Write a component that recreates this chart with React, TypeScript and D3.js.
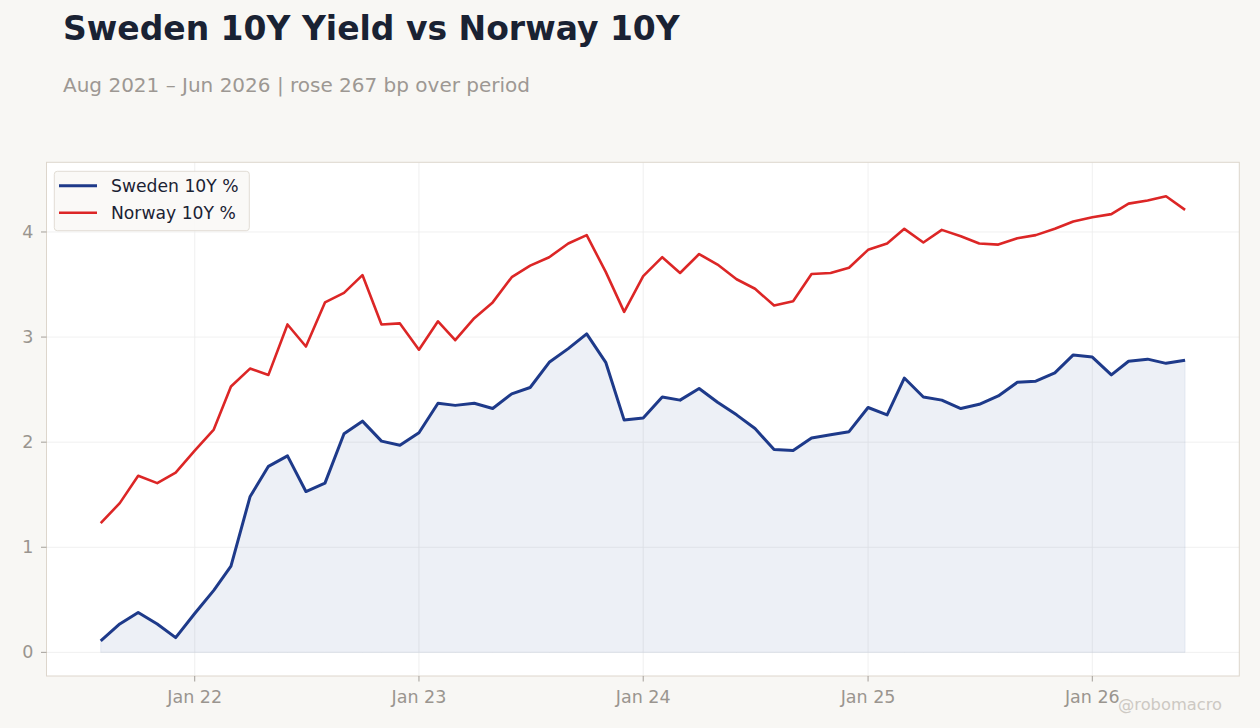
import React from "react";
import * as d3 from "d3";

const startMonth = new Date(2021, 7, 1);
const endMonth = new Date(2026, 5, 1);

const swedenValues = [
  0.11, 0.27, 0.38, 0.27, 0.14,
  0.37, 0.59, 0.82, 1.48, 1.77, 1.87, 1.53, 1.61, 2.08, 2.2, 2.01, 1.97,
  2.09, 2.37, 2.35, 2.37, 2.32, 2.46, 2.52, 2.76, 2.89, 3.03, 2.76, 2.21,
  2.23, 2.43, 2.4, 2.51, 2.38, 2.26, 2.13, 1.93, 1.92, 2.04, 2.07, 2.1,
  2.33, 2.26, 2.61, 2.43, 2.4, 2.32, 2.36, 2.44, 2.57, 2.58, 2.66, 2.83,
  2.81, 2.64, 2.77, 2.79, 2.75, 2.78,
];

const norwayValues = [
  1.23, 1.42, 1.68, 1.61, 1.71,
  1.92, 2.12, 2.53, 2.7, 2.64, 3.12, 2.91, 3.33, 3.42, 3.59, 3.12, 3.13,
  2.88, 3.15, 2.97, 3.18, 3.33, 3.57, 3.68, 3.76, 3.89, 3.97, 3.62, 3.24,
  3.58, 3.76, 3.61, 3.79, 3.69, 3.55, 3.46, 3.3, 3.34, 3.6, 3.61, 3.66,
  3.83, 3.89, 4.03, 3.9, 4.02, 3.96, 3.89, 3.88, 3.94, 3.97, 4.03, 4.1,
  4.14, 4.17, 4.27, 4.3, 4.34, 4.21,
];

const xTickDates = [
  new Date(2022, 0, 1),
  new Date(2023, 0, 1),
  new Date(2024, 0, 1),
  new Date(2025, 0, 1),
  new Date(2026, 0, 1),
];
const xTickLabels = ["Jan 22", "Jan 23", "Jan 24", "Jan 25", "Jan 26"];
const yTicks = [0, 1, 2, 3, 4];

const seriesNames = ["Sweden 10Y %", "Norway 10Y %"];
const title = "Sweden 10Y Yield vs Norway 10Y";
const subtitle = "Aug 2021 – Jun 2026 | rose 267 bp over period";
const watermark = "@robomacro";

const W = 1260;
const H = 728;
const plot = { left: 46.5, top: 162.3, right: 1239.3, bottom: 676 };
const FONT = "'DejaVu Sans', sans-serif";
const C_SWE = "#1e3a8a";
const C_NOR = "#dc2626";

export default function App() {
  const months = d3.timeMonth.range(startMonth, d3.timeMonth.offset(endMonth, 1));
  const span = endMonth.getTime() - startMonth.getTime();
  const x = d3
    .scaleTime()
    .domain([new Date(startMonth.getTime() - span * 0.05), new Date(endMonth.getTime() + span * 0.05)])
    .range([plot.left, plot.right]);
  const y = d3.scaleLinear().domain([-0.225, 4.663]).range([plot.bottom, plot.top]);

  const swe = months.map((d, i) => ({ d, v: swedenValues[i] }));
  const nor = months.map((d, i) => ({ d, v: norwayValues[i] }));

  const line = d3
    .line<{ d: Date; v: number }>()
    .x((p) => x(p.d))
    .y((p) => y(p.v));
  const area = d3
    .area<{ d: Date; v: number }>()
    .x((p) => x(p.d))
    .y0(() => y(0))
    .y1((p) => y(p.v));

  const tickColor = "#9a958f";
  const gridColor = "#ececec";

  return (
    <div style={{ position: "absolute", left: 0, top: 0, width: W, height: H }}>
      <svg width={W} height={H} style={{ display: "block", fontFamily: FONT }}>
        <rect x={0} y={0} width={W} height={H} fill="#f8f7f4" />
        <text x={63} y={40} fontSize={33} fontWeight="bold" fill="#1a2233">
          {title}
        </text>
        <text x={63} y={92} fontSize={20} fill="#9d9893">
          {subtitle}
        </text>

        <rect
          x={plot.left}
          y={plot.top}
          width={plot.right - plot.left}
          height={plot.bottom - plot.top}
          fill="#ffffff"
        />
        {yTicks.map((t) => (
          <line key={"gy" + t} x1={plot.left} x2={plot.right} y1={y(t)} y2={y(t)} stroke={gridColor} strokeWidth={0.8} />
        ))}
        {xTickDates.map((t, i) => (
          <line key={"gx" + i} x1={x(t)} x2={x(t)} y1={plot.top} y2={plot.bottom} stroke={gridColor} strokeWidth={0.8} />
        ))}

        <path d={area(swe) || ""} fill={C_SWE} fillOpacity={0.08} stroke={C_SWE} strokeOpacity={0.08} strokeWidth={1} />
        <path d={line(nor) || ""} fill="none" stroke={C_NOR} strokeWidth={2.6} strokeLinejoin="round" />
        <path d={line(swe) || ""} fill="none" stroke={C_SWE} strokeWidth={3} strokeLinejoin="round" />

        <rect
          x={plot.left}
          y={plot.top}
          width={plot.right - plot.left}
          height={plot.bottom - plot.top}
          fill="none"
          stroke="#ddd6cc"
          strokeWidth={1}
        />

        {yTicks.map((t) => (
          <g key={"yt" + t}>
            <line x1={plot.left - 5.5} x2={plot.left} y1={y(t)} y2={y(t)} stroke={tickColor} strokeWidth={0.9} />
            <text x={plot.left - 13} y={y(t)} dy="0.35em" textAnchor="end" fontSize={17.5} fill={tickColor}>
              {t}
            </text>
          </g>
        ))}
        {xTickDates.map((t, i) => (
          <g key={"xt" + i}>
            <line x1={x(t)} x2={x(t)} y1={plot.bottom} y2={plot.bottom + 5.5} stroke={tickColor} strokeWidth={0.9} />
            <text x={x(t)} y={703} textAnchor="middle" fontSize={17.5} fill={tickColor}>
              {xTickLabels[i]}
            </text>
          </g>
        ))}

        <rect x={54.3} y={171.3} width={195} height={59.4} rx={3} fill="#faf8f6" fillOpacity={0.9} stroke="#e2ddd5" strokeWidth={1} />
        <line x1={59} x2={97} y1={185.7} y2={185.7} stroke={C_SWE} strokeWidth={3} />
        <line x1={59} x2={97} y1={212.7} y2={212.7} stroke={C_NOR} strokeWidth={2.6} />
        <text x={111} y={185.7} dy="0.35em" fontSize={17.2} fill="#1a2233">
          {seriesNames[0]}
        </text>
        <text x={111} y={212.7} dy="0.35em" fontSize={17.2} fill="#1a2233">
          {seriesNames[1]}
        </text>

        <text x={1222} y={710} textAnchor="end" fontSize={16.3} fill="#cdc9c3">
          {watermark}
        </text>
      </svg>
    </div>
  );
}
